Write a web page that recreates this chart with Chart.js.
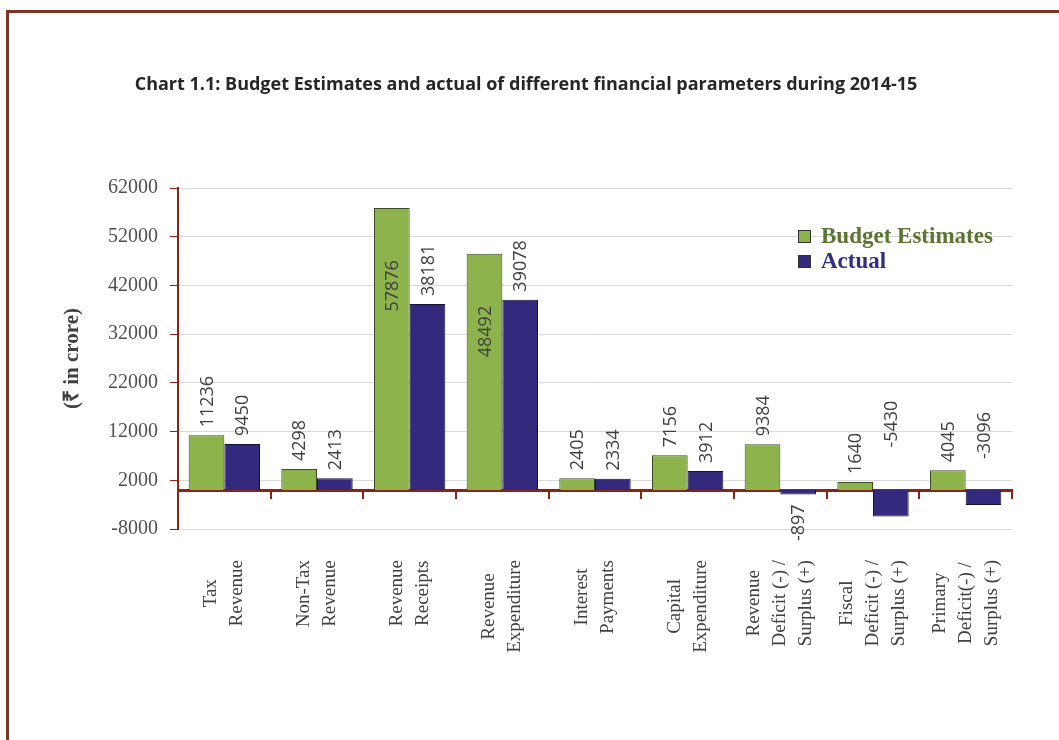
<!DOCTYPE html>
<html>
<head>
<meta charset="utf-8">
<script src="https://cdn.jsdelivr.net/npm/chart.js@4.4.1/dist/chart.umd.min.js"></script>
<style>
	html, body { margin: 0; padding: 0; background: #fff; }
	#wrap { position: relative; width: 1059px; height: 740px; }
	#frame {
		position: absolute; left: 6px; top: 10px; right: 0; bottom: 0;
		border-top: 3px solid #7d3528; border-left: 3px solid #7d3528;
		pointer-events: none;
	}
</style>
</head>
<body>
<div id="wrap">
	<canvas id="budget-chart"></canvas>
	<div id="frame"></div>
</div>
<script>
( function () {
	'use strict';

	var categories = [
		[ 'Tax', 'Revenue' ],
		[ 'Non-Tax', 'Revenue' ],
		[ 'Revenue', 'Receipts' ],
		[ 'Revenue', 'Expenditure' ],
		[ 'Interest', 'Payments' ],
		[ 'Capital', 'Expenditure' ],
		[ 'Revenue', 'Deficit (-) /', 'Surplus (+)' ],
		[ 'Fiscal', 'Deficit (-) /', 'Surplus (+)' ],
		[ 'Primary', 'Deficit(-) /', 'Surplus (+)' ]
	];
	var budgetEstimates = [ 11236, 4298, 57876, 48492, 2405, 7156, 9384, 1640, 4045 ];
	var actuals = [ 9450, 2413, 38181, 39078, 2334, 3912, -897, -5430, -3096 ];
	var yMin = -8000;
	var yMax = 62000;
	var yStep = 10000;

	// where each value label sits relative to its bar
	var budgetLabelPlacement = [ 'out', 'out', 'in', 'in', 'out', 'out', 'out', 'out', 'out' ];
	var actualLabelPlacement = [ 'out', 'out', 'out', 'out', 'out', 'out', 'out', 'mirror', 'mirror' ];

	var AXIS_RED = '#8b2417';
	var SERIF = '"Liberation Serif", "Times New Roman", serif';
	var SANS = '"Open Sans", "Liberation Sans", sans-serif';

	var valueLabels = {
		id: 'valueLabels',
		afterDatasetsDraw: function ( chart ) {
			var ctx = chart.ctx;
			ctx.save();
			ctx.font = '18px ' + SANS;
			ctx.fillStyle = '#3f3f3f';
			ctx.textBaseline = 'middle';
			chart.data.datasets.forEach( function ( ds, di ) {
				var meta = chart.getDatasetMeta( di );
				meta.data.forEach( function ( bar, i ) {
					var v = ds.data[ i ];
					var mode = ds.labelPlacement[ i ];
					var len = Math.abs( bar.y - bar.base );
					var y, align;
					if ( mode === 'in' ) {
						y = bar.y + 52; align = 'right';
					} else if ( mode === 'mirror' ) {
						y = bar.base - len - 16; align = 'left';
					} else if ( v >= 0 ) {
						y = bar.y - 8; align = 'left';
					} else {
						y = bar.y + 10; align = 'right';
					}
					ctx.save();
					ctx.translate( bar.x, y );
					ctx.rotate( -Math.PI / 2 );
					ctx.textAlign = align;
					ctx.fillText( String( v ), 0, 1 );
					ctx.restore();
				} );
			} );
			ctx.restore();
		}
	};

	var categoryLabels = {
		id: 'categoryLabels',
		afterDraw: function ( chart ) {
			var ctx = chart.ctx;
			var xScale = chart.scales.x;
			var top = chart.chartArea.bottom + 31;
			ctx.save();
			ctx.font = '19px ' + SERIF;
			ctx.fillStyle = '#404040';
			ctx.textAlign = 'center';
			ctx.textBaseline = 'middle';
			categories.forEach( function ( lines, i ) {
				var x = xScale.getPixelForValue( i );
				var widest = Math.max.apply( null, lines.map( function ( l ) {
					return ctx.measureText( l ).width;
				} ) );
				var cy = top + widest / 2;
				lines.forEach( function ( line, j ) {
					ctx.save();
					ctx.translate( x + ( j - ( lines.length - 1 ) / 2 ) * 26, cy );
					ctx.rotate( -Math.PI / 2 );
					ctx.fillText( line, 0, 0 );
					ctx.restore();
				} );
			} );
			ctx.restore();
		}
	};

	var legendBox = {
		id: 'legendBox',
		afterDraw: function ( chart ) {
			var ctx = chart.ctx;
			var x = 798;
			var y = 236;
			ctx.save();
			ctx.font = 'bold 23px ' + SERIF;
			ctx.textBaseline = 'middle';
			chart.data.datasets.forEach( function ( ds ) {
				ctx.fillStyle = ds.backgroundColor;
				ctx.fillRect( x, y - 6, 13, 13 );
				ctx.strokeStyle = '#333';
				ctx.lineWidth = 1;
				ctx.strokeRect( x + 0.5, y - 5.5, 12, 12 );
				ctx.fillStyle = ds.legendColor;
				ctx.fillText( ds.label, x + 23, y + 1 );
				y += 25;
			} );
			ctx.restore();
		}
	};

	new Chart( document.getElementById( 'budget-chart' ), {
		type: 'bar',
		data: {
			labels: categories,
			datasets: [
				{
					label: 'Budget Estimates',
					data: budgetEstimates,
					labelPlacement: budgetLabelPlacement,
					backgroundColor: '#8db44c',
					borderColor: '#3c4a26',
					legendColor: '#5b7530',
					borderWidth: 1,
					categoryPercentage: 0.77,
					barPercentage: 1
				},
				{
					label: 'Actual',
					data: actuals,
					labelPlacement: actualLabelPlacement,
					backgroundColor: '#332a7e',
					borderColor: '#15123a',
					legendColor: '#2f2f7e',
					borderWidth: 1,
					categoryPercentage: 0.77,
					barPercentage: 1
				}
			]
		},
		options: {
			responsive: true,
			maintainAspectRatio: false,
			animation: false,
			layout: {
				padding: { left: 40, right: 47, top: 0, bottom: 211 }
			},
			plugins: {
				legend: { display: false },
				tooltip: { enabled: false },
				title: {
					display: true,
					text: 'Chart 1.1: Budget Estimates and actual of different financial parameters during 2014-15',
					color: '#262626',
					font: { family: SANS, size: 18, weight: 'bold', lineHeight: 1.2 },
					padding: { top: 74, bottom: 92.4 }
				}
			},
			scales: {
				x: {
					position: { y: 0 },
					border: { color: AXIS_RED, width: 3 },
					grid: {
						drawOnChartArea: false,
						drawTicks: true,
						tickLength: 7,
						color: AXIS_RED,
						tickColor: AXIS_RED,
						lineWidth: 2
					},
					ticks: { display: false }
				},
				y: {
					min: yMin,
					max: yMax,
					afterFit: function ( scale ) {
						scale.width = 138;
					},
					border: { color: AXIS_RED, width: 2 },
					grid: {
						color: '#d9d9d9',
						lineWidth: 1,
						tickColor: AXIS_RED,
						tickLength: 8
					},
					ticks: {
						stepSize: yStep,
						padding: 12,
						color: '#505050',
						font: { family: SERIF, size: 20 },
						callback: function ( value ) {
							return String( value );
						}
					},
					title: {
						display: true,
						text: '(₹ in crore)',
						color: '#404040',
						font: { family: SERIF, size: 21, weight: 'bold' },
						padding: { top: 20, bottom: 0 }
					}
				}
			}
		},
		plugins: [ valueLabels, categoryLabels, legendBox ]
	} );
}() );
</script>
</body>
</html>
